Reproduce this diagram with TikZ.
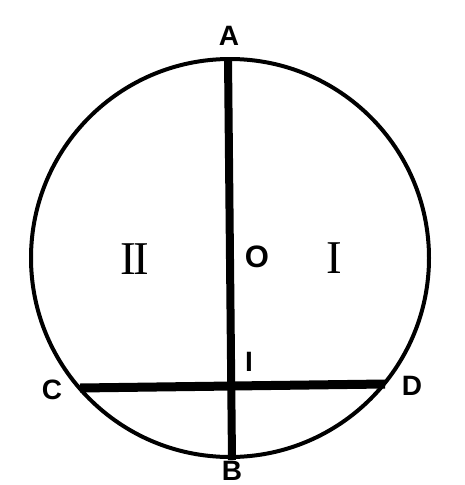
\documentclass[tikz,border=0pt]{standalone}
\usepackage{fontspec}
\setmainfont{Liberation Sans}
\newfontfamily\numfont{Liberation Serif}
\usetikzlibrary{positioning}
\tikzset{
  pt/.style={font=\fontsize{28}{28}\selectfont\bfseries,inner sep=0pt},
  region/.style={font=\fontsize{47}{47}\numfont,inner sep=0pt},
}

\begin{document}
\begin{tikzpicture}[x=1pt,y=-1pt]
  \useasboundingbox (0,0) rectangle (465,485);
  \coordinate (O) at (230,258);
  \coordinate (A) at (228,58);
  \coordinate (B) at (232,460);
  \coordinate (C) at (80,388);
  \coordinate (D) at (385,384);
  \draw[line width=4pt] (O) circle[radius=199];
  \draw[line width=8pt] (A)--(B);
  \draw[line width=9pt] (C)--(D);
  % labels
  \node[pt] (labA) at (229,36) {A};
  \node[pt] (labB) at (232,471) {B};
  \node[pt] (labC) at (52,390) {C};
  \node[pt] (labD) at (412,386) {D};
  \node[pt,font=\fontsize{31}{31}\selectfont\bfseries] (labO) at (257,257) {O};
  \node[pt] (labI) at (249,362) {I};
  \node[region] (two) at (135,259) {I\kern-3ptI};
  \node[region] (one) at (334,258) {I};
\end{tikzpicture}
\end{document}
